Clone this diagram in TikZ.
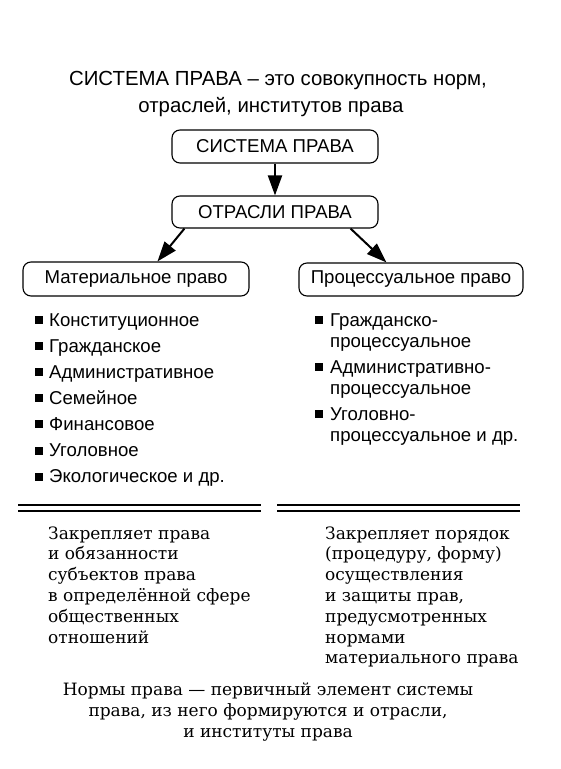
\documentclass[tikz,border=0pt]{standalone}
\usepackage{fontspec}
\setmainfont{Liberation Sans}
\newfontfamily\serifru{DejaVu Serif}
\usetikzlibrary{arrows.meta,calc}
\begin{document}
\begin{tikzpicture}[x=1pt,y=-1pt,
  box/.style={draw,line width=1.1pt,rounded corners=8pt,inner sep=0pt,font=\fontsize{18.6}{20}\selectfont},
  arr/.style={line width=2pt,-{Triangle[length=20pt,width=14pt]}},
  ttl/.style={anchor=base,inner sep=0pt,font=\fontsize{20.4}{24}\selectfont},
  lst/.style={anchor=base west,inner sep=0pt,font=\fontsize{18.6}{20}\selectfont},
  bul/.style={fill,minimum size=8pt,inner sep=0pt},
  ser/.style={anchor=base west,inner sep=0pt,font=\serifru\fontsize{17}{20}\selectfont},
  serc/.style={anchor=base,inner sep=0pt,font=\serifru\fontsize{17}{20}\selectfont},
  rule/.style={line width=1.4pt}]
\useasboundingbox (0,0) rectangle (561,769);
% title
\node[ttl] (t1) at (278,85) {СИСТЕМА ПРАВА – это совокупность норм,};
\node[ttl] (t2) at (271,112) {отраслей, институтов права};
% boxes
\node[box,minimum width=206pt,minimum height=33pt] (sp) at (275,146.5) {СИСТЕМА ПРАВА};
\node[box,minimum width=206pt,minimum height=32pt] (op) at (275,212) {ОТРАСЛИ ПРАВА};
\node[box,minimum width=226pt,minimum height=34pt] (mp) at (136,279) {Материальное право};
\node[box,minimum width=224pt,minimum height=33pt] (pp) at (411,279.5) {Процессуальное право};
% arrows
\draw[arr] (sp) -- (op);
\draw[arr] ($(op.south west)+(13,0)$) -- ($(mp.north west)+(135,0)$);
\draw[arr] ($(op.south east)+(-28,0)$) -- ($(pp.north west)+(88,0)$);
% left list
\foreach \t [count=\i] in {Конституционное,Гражданское,Административное,Семейное,Финансовое,Уголовное,Экологическое и др.}{
  \node[bul] (mb\i) at (39,{320+26.1*(\i-1)}) {};
  \node[lst] (ml\i) at (49,{326+26.1*(\i-1)}) {\t};
}
% right list
\node[bul] (pb1) at (319,320) {};
\node[lst] (pl1a) at (330,326) {Гражданско-};
\node[lst] (pl1b) at (330,347) {процессуальное};
\node[bul] (pb2) at (319,367) {};
\node[lst] (pl2a) at (330,373) {Административно-};
\node[lst] (pl2b) at (330,394) {процессуальное};
\node[bul] (pb3) at (319,414) {};
\node[lst] (pl3a) at (330,420) {Уголовно-};
\node[lst] (pl3b) at (330,441) {процессуальное и др.};
% rules
\draw[rule] (18,505) -- (261,505);
\draw[rule] (18,511) -- (261,511);
\draw[rule] (277,505) -- (520,505);
\draw[rule] (277,511) -- (520,511);
% left paragraph
\foreach \t [count=\i] in {Закрепляет права,и обязанности,субъектов права,в определённой сфере,общественных,отношений}{
  \node[ser] (ma\i) at (48,{539+20.8*(\i-1)}) {\t};
}
% right paragraph
\foreach \t [count=\i] in {Закрепляет порядок,{(процедуру, форму)},осуществления,{и защиты прав,},предусмотренных,нормами,материального права}{
  \node[ser] (pa\i) at (325,{539+20.8*(\i-1)}) {\t};
}
% bottom
\node[serc] (n1) at (268,695) {Нормы права — первичный элемент системы};
\node[serc] (n2) at (268,716) {права, из него формируются и отрасли,};
\node[serc] (n3) at (268,737) {и институты права};
\end{tikzpicture}
\end{document}
